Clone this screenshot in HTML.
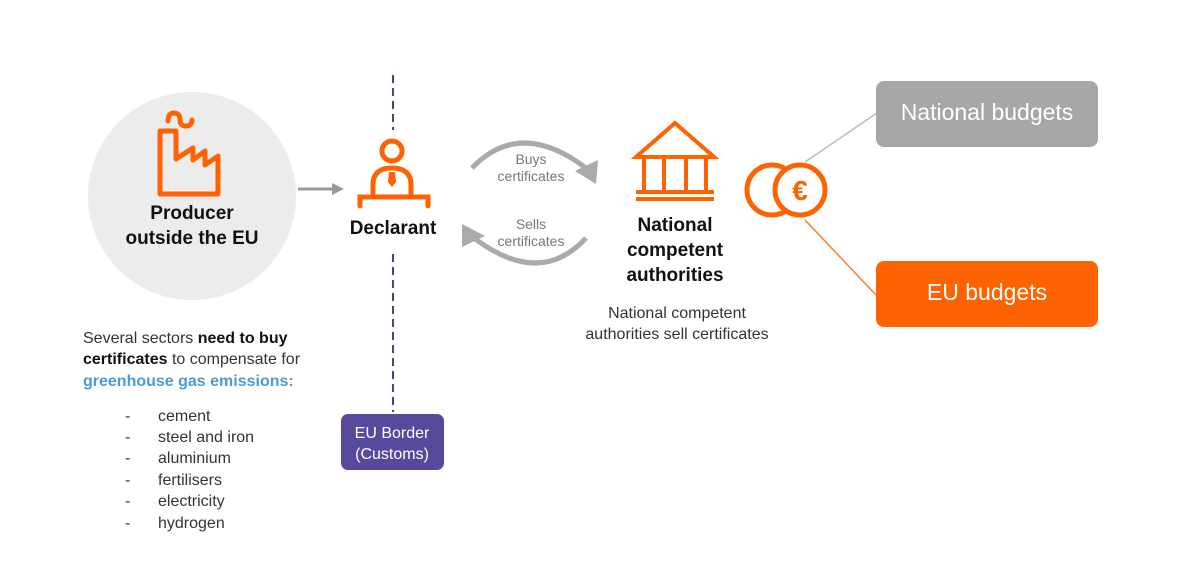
<!DOCTYPE html>
<html><head><meta charset="utf-8"><style>
html,body{margin:0;padding:0;background:#fff;}
svg text{font-family:"Liberation Sans",sans-serif;}
</style></head><body>
<svg width="1182" height="568" viewBox="0 0 1182 568" xmlns="http://www.w3.org/2000/svg">
<rect width="1182" height="568" fill="#fff"/>
<!-- producer circle -->
<circle cx="192" cy="196" r="104" fill="#ececec"/>
<g fill="none" stroke="#ff6200" stroke-width="5" stroke-linejoin="round" stroke-linecap="round">
  <path d="M160 194 V131 H176 V159 L193 148 V160 L205 151 V165 L218 156 V194 Z"/>
  <path d="M168 121 q0 -8 6 -8 q6 0 6 7 q0 6 6 6 q6 0 6 -6"/>
</g>
<text x="192" y="219" font-size="19" font-weight="bold" text-anchor="middle" fill="#111">Producer</text>
<text x="192" y="244" font-size="19" font-weight="bold" text-anchor="middle" fill="#111">outside the EU</text>
<!-- arrow -->
<line x1="298" y1="189" x2="332" y2="189" stroke="#999" stroke-width="3"/>
<path d="M344 189 L332 183 L332 195 Z" fill="#999"/>
<!-- dashed border -->
<line x1="393" y1="75" x2="393" y2="130" stroke="#4b3f94" stroke-width="2" stroke-dasharray="8,5"/>
<line x1="393" y1="254" x2="393" y2="412" stroke="#4b3f94" stroke-width="2" stroke-dasharray="8,5"/>
<!-- person -->
<g fill="none" stroke="#ff6200" stroke-width="5" stroke-linecap="round">
  <circle cx="392" cy="151" r="10"/>
  <path d="M373 193 V185 Q373 168 392 168 Q411 168 411 185 V193"/>
  <path d="M360 206 V197 H428 V206"/>
</g>
<path d="M389 172 H395 L396 182 L392 187 L388 182 Z" fill="#ff6200"/>
<text x="393" y="234" font-size="19" font-weight="bold" text-anchor="middle" fill="#111">Declarant</text>
<!-- EU border box -->
<rect x="341" y="414" width="103" height="56" rx="7" fill="#554a9c"/>
<text x="392" y="438" font-size="16" text-anchor="middle" fill="#fff">EU Border</text>
<text x="392" y="459" font-size="16" text-anchor="middle" fill="#fff">(Customs)</text>
<!-- arcs -->
<g fill="none" stroke="#aaa" stroke-width="5">
  <path d="M472 168 Q520 118 586 168"/>
  <path d="M586 238 Q540 288 474 238"/>
</g>
<path d="M596 184 L575 171 L598 160 Z" fill="#aaa"/>
<path d="M462 224 L485 236 L462 247 Z" fill="#aaa"/>
<text x="531" y="164" font-size="14" text-anchor="middle" fill="#777">Buys</text>
<text x="531" y="181" font-size="14" text-anchor="middle" fill="#777">certificates</text>
<text x="531" y="229" font-size="14" text-anchor="middle" fill="#777">Sells</text>
<text x="531" y="246" font-size="14" text-anchor="middle" fill="#777">certificates</text>
<!-- bank -->
<g fill="none" stroke="#ff6200" stroke-width="4">
  <path d="M636 157 L675 123 L714 157 Z"/>
  <line x1="644" y1="158" x2="644" y2="191"/>
  <line x1="664" y1="158" x2="664" y2="191"/>
  <line x1="686" y1="158" x2="686" y2="191"/>
  <line x1="706" y1="158" x2="706" y2="191"/>
  <line x1="636" y1="192" x2="714" y2="192"/>
  <line x1="636" y1="199" x2="714" y2="199"/>
</g>
<text x="675" y="231" font-size="19" font-weight="bold" text-anchor="middle" fill="#111">National</text>
<text x="675" y="256" font-size="19" font-weight="bold" text-anchor="middle" fill="#111">competent</text>
<text x="675" y="281" font-size="19" font-weight="bold" text-anchor="middle" fill="#111">authorities</text>
<text x="677" y="318" font-size="16" text-anchor="middle" fill="#333">National competent</text>
<text x="677" y="339" font-size="16" text-anchor="middle" fill="#333">authorities sell certificates</text>
<!-- lines to budgets -->
<line x1="805" y1="162" x2="877" y2="113" stroke="#bbb" stroke-width="1.5"/>
<line x1="805" y1="220" x2="877" y2="296" stroke="#ff7a30" stroke-width="1.5"/>
<!-- coins -->
<g fill="none" stroke="#ff6200" stroke-width="5">
  <circle cx="772" cy="190" r="25"/>
  <circle cx="800" cy="190" r="25" fill="#fff"/>
</g>
<text x="800" y="200" font-size="28" text-anchor="middle" fill="#ff6200" font-weight="bold">€</text>
<!-- budgets -->
<rect x="876" y="81" width="222" height="66" rx="8" fill="#a7a7a7"/>
<text x="987" y="120" font-size="23" text-anchor="middle" fill="#fff">National budgets</text>
<rect x="876" y="261" width="222" height="66" rx="8" fill="#ff6200"/>
<text x="987" y="300" font-size="23" text-anchor="middle" fill="#fff">EU budgets</text>
<!-- left text -->
<text x="83" y="343" font-size="16" fill="#333">Several sectors <tspan font-weight="bold" fill="#111">need to buy</tspan></text>
<text x="83" y="364" font-size="16" fill="#333"><tspan font-weight="bold" fill="#111">certificates</tspan> to compensate for</text>
<text x="83" y="386" font-size="16" font-weight="bold" fill="#4a9ad8">greenhouse gas emissions:</text>
<g font-size="16" fill="#333">
  <text x="125" y="421">-</text><text x="158" y="421">cement</text>
  <text x="125" y="442">-</text><text x="158" y="442">steel and iron</text>
  <text x="125" y="463">-</text><text x="158" y="463">aluminium</text>
  <text x="125" y="485">-</text><text x="158" y="485">fertilisers</text>
  <text x="125" y="506">-</text><text x="158" y="506">electricity</text>
  <text x="125" y="528">-</text><text x="158" y="528">hydrogen</text>
</g>
</svg>
</body></html>
